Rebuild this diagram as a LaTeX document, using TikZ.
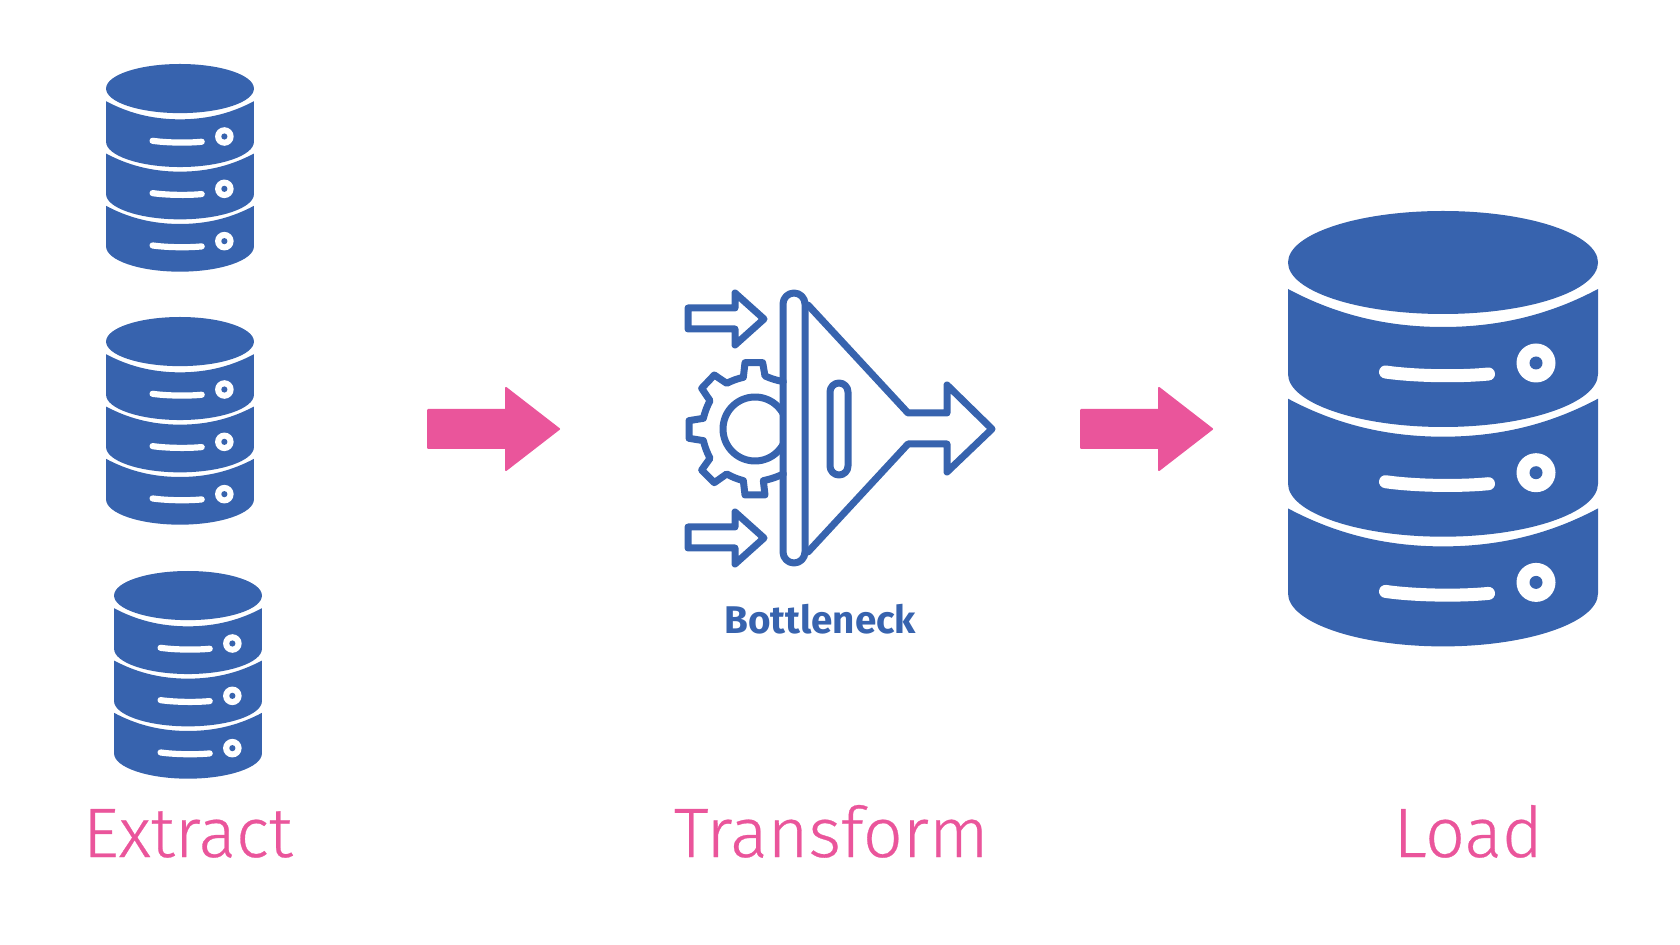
\documentclass[tikz,border=0pt]{standalone}
\usepackage{fontspec}
\setmainfont{Fira Sans}
\newfontfamily\lightfont[FakeBold=0.4]{Fira Sans Light}
\definecolor{dbblue}{HTML}{3763AE}
\definecolor{etlpink}{HTML}{EA559B}
\newcommand{\dbicon}[3]{%
\begin{scope}[shift={(#1,#2)},scale=#3]
  \fill[dbblue] (0,51.5) ellipse [x radius=155,y radius=51.5];
  \foreach \i in {0,109.7,219.4}{
    \fill[dbblue] (-155,78+\i) .. controls (-110,102+\i) and (-60,116+\i) .. (0,116+\i)
      .. controls (60,116+\i) and (110,102+\i) .. (155,78+\i) -- (155,163+\i)
      .. controls (155,192+\i) and (85,216+\i) .. (0,216+\i)
      .. controls (-85,216+\i) and (-155,192+\i) .. (-155,163+\i) -- cycle;
    \draw[white,line width=#3*6.5pt,line cap=round] (-57.5,161+\i) .. controls (-30,165+\i) and (15,166+\i) .. (45.5,163+\i);
    \fill[white] (93,152+\i) circle [radius=19.5];
    \fill[dbblue] (93,152+\i) circle [radius=6.5];
  }
\end{scope}}
\tikzset{
  iconline/.style={draw=dbblue,line width=3.5pt,line join=round,line cap=round},
  label/.style={anchor=base west,inner sep=0pt,text=etlpink,font=\lightfont\fontsize{35}{40}\selectfont},
  blockarrow/.style={fill=etlpink,draw=etlpink,line width=1pt,line join=round}
}
\newcommand{\blockarrow}[2]{%
  \path[blockarrow,shift={(#1,#2)}] (0,-19) -- (78,-19) -- (78,-41) -- (131,0) -- (78,41) -- (78,19) -- (0,19) -- cycle;}
\newcommand{\smallarrow}[1]{%
  \draw[iconline,shift={(688,#1)}] (0,-11) -- (47,-11) -- (47,-26) -- (76,0) -- (47,26) -- (47,10) -- (0,10) -- cycle;}
\begin{document}
\begin{tikzpicture}[x=0.5pt,y=-0.5pt]
\useasboundingbox (0,0) rectangle (1680,945);
\dbicon{180}{64}{0.477}
\dbicon{180}{317}{0.477}
\dbicon{188}{571}{0.477}
\dbicon{1443}{211}{1}
\blockarrow{428}{429}
\blockarrow{1081}{429}
% funnel
\smallarrow{319}
\smallarrow{538}
\draw[iconline] (808,305) -- (908,413) -- (947,413) -- (947,385) -- (992,429) -- (947,472) -- (947,444) -- (908,444) -- (808,552);
\draw[iconline,rounded corners=4.5pt] (830,383) rectangle (848,475);
\begin{scope}
\clip (680,340) rectangle (783,520);
\draw[iconline] (755,429) circle [radius=32];
\end{scope}
\draw[iconline,shift={(660,270)},x=0.5pt/3,y=-0.5pt/3]
 (370,335) to[bend left=6] (315,318) -- (308,278) -- (255,278) -- (250,322) to[bend right=6] (200,340) -- (163,315) -- (125,355) -- (150,392) to[bend right=6] (130,445) -- (87,452) -- (87,505) -- (130,512) to[bend right=6] (150,565) -- (125,600) -- (163,638) -- (200,612) to[bend right=6] (250,632) -- (255,675) -- (315,675) -- (310,632) to[bend right=6] (370,612);
\draw[iconline,rounded corners=5.5pt] (783,293) rectangle (805,563);
\node[anchor=base west,inner sep=0pt,text=dbblue,font=\bfseries\fontsize{19.3}{22}\selectfont] (bn) at (724,634) {Bottleneck};
\node[label] (ext) at (82.5,857) {Extract};
\node[label] (trf) at (673.5,857) {Transform};
\node[label] (lod) at (1393,857) {Load};
\end{tikzpicture}
\end{document}
